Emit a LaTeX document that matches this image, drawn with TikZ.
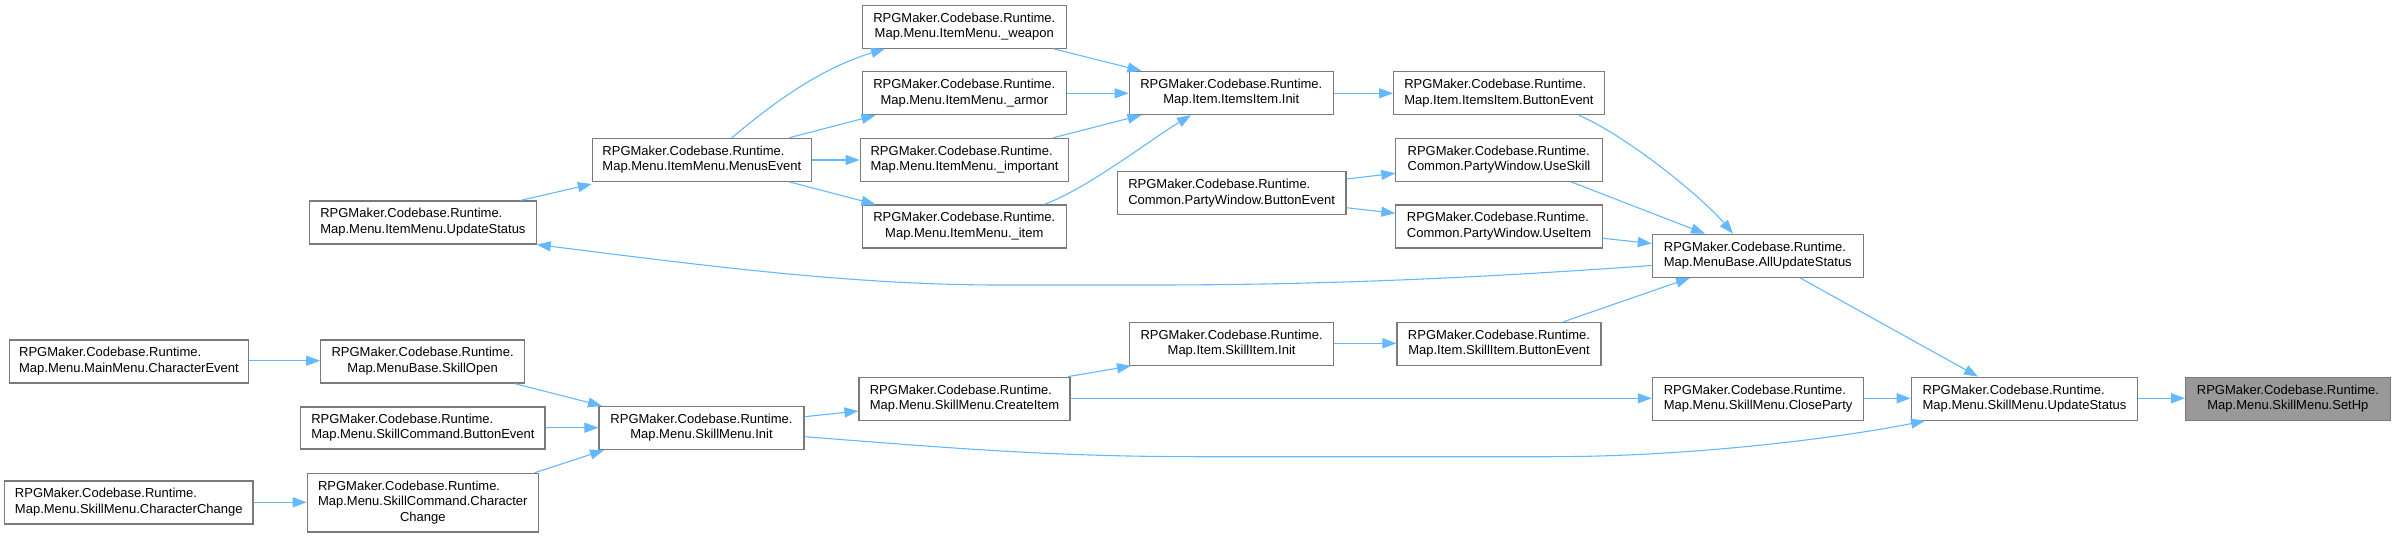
\documentclass[tikz,border=0pt]{standalone}
\usepackage{fontspec}
\setmainfont{Liberation Sans}
\usetikzlibrary{arrows.meta}
\definecolor{edgeblue}{HTML}{63B8FF}
\definecolor{boxborder}{HTML}{7A7A7A}
\definecolor{rootfill}{HTML}{999999}
\newcommand{\twol}[2]{\begin{tabular}{@{}l@{}}#1\\\multicolumn{1}{@{}c@{}}{#2}\end{tabular}}
\newcommand{\threel}[3]{\begin{tabular}{@{}l@{}}#1\\#2\\\multicolumn{1}{@{}c@{}}{#3}\end{tabular}}
\newcommand{\rpg}{RPGMaker.Codebase.Runtime.}
\tikzset{
  box/.style={draw=boxborder, fill=white, line width=1.2pt, inner sep=0pt,
    minimum height=43pt, font=\fontsize{13}{15.5}\selectfont},
  rootbox/.style={box, fill=rootfill},
  edge/.style={draw=edgeblue, line width=1.1pt, -{Triangle[length=14pt,width=10pt]}},
}
\begin{document}
\begin{tikzpicture}[x=1pt,y=-1pt]
\useasboundingbox (0,0) rectangle (2395,537);
% column 9
\node[rootbox, minimum width=204.5pt] (SetHp) at (2287.9,398.7) {\twol{\rpg}{Map.Menu.SkillMenu.SetHp}};
% column 8
\node[box, minimum width=226.6pt] (SkillUS) at (2024.5,398.7) {\twol{\rpg}{Map.Menu.SkillMenu.UpdateStatus}};
% column 7
\node[box, minimum width=211pt] (AllUS) at (1757.8,255.8) {\twol{\rpg}{Map.MenuBase.AllUpdateStatus}};
\node[box, minimum width=211.4pt] (CloseParty) at (1758.1,398.7) {\twol{\rpg}{Map.Menu.SkillMenu.CloseParty}};
% column 6
\node[box, minimum width=210.5pt] (ItemsBE) at (1498.9,93.2) {\twol{\rpg}{Map.Item.ItemsItem.ButtonEvent}};
\node[box, minimum width=206.3pt] (UseSkill) at (1499,159.8) {\twol{\rpg}{Common.PartyWindow.UseSkill}};
\node[box, minimum width=206.3pt] (UseItem) at (1499,226.5) {\twol{\rpg}{Common.PartyWindow.UseItem}};
\node[box, minimum width=203.9pt] (SkillBE) at (1499,343.8) {\twol{\rpg}{Map.Item.SkillItem.ButtonEvent}};
% column 5
\node[box, minimum width=204pt] (ItemsInit) at (1231.3,93) {\twol{\rpg}{Map.Item.ItemsItem.Init}};
\node[box, minimum width=228.7pt] (PWButton) at (1231.6,193.2) {\twol{\rpg}{Common.PartyWindow.ButtonEvent}};
\node[box, minimum width=204pt] (SkillInit) at (1231.6,343.8) {\twol{\rpg}{Map.Item.SkillItem.Init}};
% column 4
\node[box, minimum width=203.6pt] (Weapon) at (964.3,26.7) {\twol{\rpg}{Map.Menu.ItemMenu.\_weapon}};
\node[box, minimum width=203.6pt] (Armor) at (964.3,93.2) {\twol{\rpg}{Map.Menu.ItemMenu.\_armor}};
\node[box, minimum width=208.6pt] (Important) at (964.5,159.8) {\twol{\rpg}{Map.Menu.ItemMenu.\_important}};
\node[box, minimum width=203.6pt] (Item) at (964.3,226.5) {\twol{\rpg}{Map.Menu.ItemMenu.\_item}};
\node[box, minimum width=210.9pt] (CreateItem) at (964.5,398.7) {\twol{\rpg}{Map.Menu.SkillMenu.CreateItem}};
% column 3
\node[box, minimum width=218.8pt] (MenusEvent) at (701.8,159.8) {\twol{\rpg}{Map.Menu.ItemMenu.MenusEvent}};
\node[box, minimum width=205pt] (SkillMenuInit) at (701.5,428) {\twol{\rpg}{Map.Menu.SkillMenu.Init}};
% column 2
\node[box, minimum width=226.5pt] (ItemUS) at (422.9,222.5) {\twol{\rpg}{Map.Menu.ItemMenu.UpdateStatus}};
\node[box, minimum width=203.8pt] (SkillOpen) at (422.6,361.5) {\twol{\rpg}{Map.MenuBase.SkillOpen}};
\node[box, minimum width=244.2pt, minimum height=42pt] (SCButton) at (422.9,428) {\twol{\rpg}{Map.Menu.SkillCommand.ButtonEvent}};
\node[box, minimum width=231pt, minimum height=58.7pt] (SCCharChange) at (422.8,502.7) {\threel{\rpg}{Map.Menu.SkillCommand.Character}{Change}};
% column 1
\node[box, minimum width=238.8pt] (MainCharEvent) at (129,361.5) {\twol{\rpg}{Map.Menu.MainMenu.CharacterEvent}};
\node[box, minimum width=248.4pt] (SMCharChange) at (128.8,502.5) {\twol{\rpg}{Map.Menu.SkillMenu.CharacterChange}};

% edges
\draw[edge] (SkillUS.east |- 0,398.3) -- (SetHp.west |- 0,398.3);
\draw[edge] (CloseParty.east |- 0,398.3) -- (SkillUS.west |- 0,398.3);
\draw[edge] (AllUS.south -| 1800,0) -- (SkillUS.north -| 1978,0);
\draw[edge] (SkillMenuInit.east |- 0,436.7) .. controls (950,448) and (1050,456.7) .. (1200,456.7)
  -- (1550,456.7) .. controls (1700,456.7) and (1850,436) .. (SkillUS.south -| 1925,0);
\draw[edge] (ItemsBE.south -| 1578.9,0) .. controls (1625,135) and (1700,195) .. (AllUS.north -| 1733,0);
\draw[edge] (UseSkill.south -| 1571.2,0) -- (AllUS.north -| 1705,0);
\draw[edge] (UseItem.east |- 0,238.3) -- (AllUS.west |- 0,243.5);
\draw[edge] (SkillBE.north -| 1563.6,0) -- (AllUS.south -| 1690,0);
\draw[edge] (AllUS.west |- 0,265.5) .. controls (1450,280) and (1300,285) .. (1150,285)
  -- (1000,285) .. controls (850,285) and (700,265) .. (ItemUS.south east);
\draw[edge] (ItemUS.north -| 520.5,0) -- (MenusEvent.west |- 0,184);
\draw[edge] (MenusEvent.north -| 732,0) .. controls (765,110) and (815,70) .. (Weapon.south -| 885,0);
\draw[edge] (MenusEvent.north -| 789.4,0) -- (Armor.south -| 875.5,0);
\draw[edge] (MenusEvent.east |- 0,160) -- (Important.west |- 0,160);
\draw[edge] (MenusEvent.south -| 789.4,0) -- (Item.north -| 875.5,0);
\draw[edge] (Weapon.south -| 1053.5,0) -- (ItemsInit.north -| 1141.5,0);
\draw[edge] (Armor.east |- 0,93.3) -- (ItemsInit.west |- 0,93.3);
\draw[edge] (Important.north -| 1053.5,0) -- (ItemsInit.south -| 1141.5,0);
\draw[edge] (Item.north -| 1044,0) .. controls (1085,190) and (1150,140) .. (ItemsInit.south -| 1191,0);
\draw[edge] (ItemsInit.east |- 0,93.3) -- (ItemsBE.west |- 0,93.3);
\draw[edge] (PWButton.east |- 0,179) -- (UseSkill.west |- 0,173.3);
\draw[edge] (PWButton.east |- 0,207.7) -- (UseItem.west |- 0,213.3);
\draw[edge] (SkillInit.east |- 0,343.3) -- (SkillBE.west |- 0,343.3);
\draw[edge] (CreateItem.north -| 1068,0) -- (SkillInit.south -| 1131,0);
\draw[edge] (CreateItem.east |- 0,398.3) -- (CloseParty.west |- 0,398.3);
\draw[edge] (SkillMenuInit.east |- 0,416.7) -- (CreateItem.west |- 0,411);
\draw[edge] (SkillOpen.south -| 514.7,0) -- (SkillMenuInit.north -| 602,0);
\draw[edge] (SCButton.east |- 0,427.7) -- (SkillMenuInit.west |- 0,427.7);
\draw[edge] (SCCharChange.north -| 534.6,0) -- (SkillMenuInit.south -| 604,0);
\draw[edge] (MainCharEvent.east |- 0,360.7) -- (SkillOpen.west |- 0,360.7);
\draw[edge] (SMCharChange.east |- 0,502.3) -- (SCCharChange.west |- 0,502.3);
\end{tikzpicture}
\end{document}
